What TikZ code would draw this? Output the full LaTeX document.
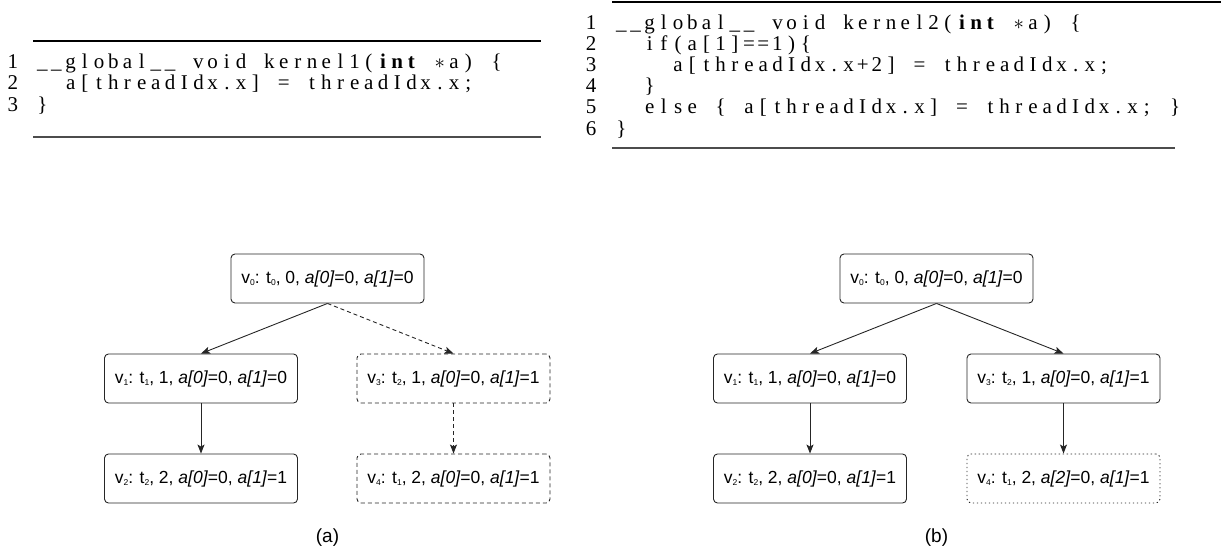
\documentclass[tikz,border=0pt]{standalone}
\usepackage{fontspec}
\setmainfont{Liberation Serif}
\newfontfamily\sansf{Liberation Sans}
\usetikzlibrary{arrows.meta}
\newlength\colw
\setlength\colw{14.2pt}
\makeatletter
\def\fc#1{\fc@a#1\fc@end}
\def\fc@end{\fc@end}
\def\fc@a#1{\ifx\fc@end#1\else\makebox[\colw][c]{#1}\expandafter\fc@a\fi}
\makeatother
\newcommand\sub[1]{\raisebox{-0.25ex}{\fontsize{8.5}{9}\selectfont #1}}
\tikzset{
  codeline/.style={anchor=base west, inner sep=0pt, font=\fontsize{21}{21}\selectfont},
  lnum/.style={anchor=base, inner sep=0pt, font=\fontsize{21}{21}\selectfont},
  sbox/.style={draw=black!85, line width=0.9pt, rounded corners=4pt, minimum width=193pt, minimum height=49pt, inner sep=0pt, font=\sansf\fontsize{17.5}{20}\selectfont},
  dbox/.style={sbox, dash pattern=on 4pt off 3pt},
  obox/.style={sbox, dash pattern=on 1.3pt off 2.7pt},
  conn/.style={draw=black!85, line width=0.9pt, -{Stealth[length=9pt,width=7pt,inset=2pt]}},
  dconn/.style={conn, dash pattern=on 4pt off 3pt},
  captxt/.style={inner sep=0pt, font=\sansf\fontsize{19}{22}\selectfont},
  toprule/.style={line width=1.3pt, draw=black},
  botrule/.style={line width=1.6pt, draw=black!70}
}
\begin{document}
\begin{tikzpicture}[x=1pt,y=-1pt]
\useasboundingbox (0,0) rectangle (1221,557);
% ---- code 1 ----
\coordinate (r1a) at (33,41); \coordinate (r1b) at (541,41);
\coordinate (r1c) at (33,137); \coordinate (r1d) at (541,137);
\draw[toprule] (r1a) -- (r1b);
\draw[botrule] (r1c) -- (r1d);
\node[lnum] (n11) at (13,68) {1};
\node[lnum] (n12) at (13,89.5) {2};
\node[lnum] (n13) at (13,111) {3};
\node[codeline] (c11) at (35,68) {\fc{\_\_global\_\_~void~kernel1({\bfseries i}{\bfseries n}{\bfseries t}~{$\ast$}a)~\{}};
\node[codeline] (c12) at (35,89.5) {\fc{~~a[threadIdx.x]~=~threadIdx.x;}};
\node[codeline] (c13) at (35,111) {\fc{\}}};
% ---- code 2 ----
\coordinate (r2a) at (612,2); \coordinate (r2b) at (1221,2);
\coordinate (r2c) at (612,148); \coordinate (r2d) at (1175,148);
\draw[toprule] (r2a) -- (r2b);
\draw[botrule] (r2c) -- (r2d);
\node[lnum] (n21) at (591,29) {1};
\node[lnum] (n22) at (591,50.2) {2};
\node[lnum] (n23) at (591,71.4) {3};
\node[lnum] (n24) at (591,92.6) {4};
\node[lnum] (n25) at (591,113.8) {5};
\node[lnum] (n26) at (591,135) {6};
\node[codeline] (c21) at (614,29) {\fc{\_\_global\_\_~void~kernel2({\bfseries i}{\bfseries n}{\bfseries t}~{$\ast$}a)~\{}};
\node[codeline] (c22) at (614,50.2) {\fc{~~if(a[1]==1)\{}};
\node[codeline] (c23) at (614,71.4) {\fc{~~~~a[threadIdx.x+2]~=~threadIdx.x;}};
\node[codeline] (c24) at (614,92.6) {\fc{~~\}}};
\node[codeline] (c25) at (614,113.8) {\fc{~~else~\{~a[threadIdx.x]~=~threadIdx.x;~\}}};
\node[codeline] (c26) at (614,135) {\fc{\}}};
% ---- tree (a) ----
\node[sbox] (a0) at (327.5,278.5) {v\sub{0}: t\sub{0}, 0, \textit{a[0]}=0, \textit{a[1]}=0};
\node[sbox] (a1) at (201,378.5) {v\sub{1}: t\sub{1}, 1, \textit{a[0]}=0, \textit{a[1]}=0};
\node[sbox] (a2) at (201,478.5) {v\sub{2}: t\sub{2}, 2, \textit{a[0]}=0, \textit{a[1]}=1};
\node[dbox] (a3) at (453.5,378.5) {v\sub{3}: t\sub{2}, 1, \textit{a[0]}=0, \textit{a[1]}=1};
\node[dbox] (a4) at (453.5,478.5) {v\sub{4}: t\sub{1}, 2, \textit{a[0]}=0, \textit{a[1]}=1};
\draw[conn] (a0.south) -- (a1.north);
\draw[dconn] (a0.south) -- (a3.north);
\draw[conn] (a1.south) -- (a2.north);
\draw[dconn] (a3.south) -- (a4.north);
\node[captxt] (ca) at (327.5,538) {(a)};
% ---- tree (b) ----
\node[sbox] (b0) at (936.5,278.5) {v\sub{0}: t\sub{0}, 0, \textit{a[0]}=0, \textit{a[1]}=0};
\node[sbox] (b1) at (810,378.5) {v\sub{1}: t\sub{1}, 1, \textit{a[0]}=0, \textit{a[1]}=0};
\node[sbox] (b2) at (810,478.5) {v\sub{2}: t\sub{2}, 2, \textit{a[0]}=0, \textit{a[1]}=1};
\node[sbox] (b3) at (1063.5,378.5) {v\sub{3}: t\sub{2}, 1, \textit{a[0]}=0, \textit{a[1]}=1};
\node[obox] (b4) at (1063.5,478.5) {v\sub{4}: t\sub{1}, 2, \textit{a[2]}=0, \textit{a[1]}=1};
\draw[conn] (b0.south) -- (b1.north);
\draw[conn] (b0.south) -- (b3.north);
\draw[conn] (b1.south) -- (b2.north);
\draw[conn] (b3.south) -- (b4.north);
\node[captxt] (cb) at (936.5,538) {(b)};
\end{tikzpicture}
\end{document}
